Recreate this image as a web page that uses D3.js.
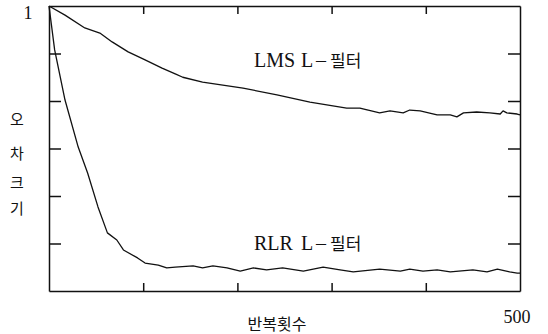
<!DOCTYPE html>
<html>
<head>
<meta charset="utf-8">
<script src="https://cdn.jsdelivr.net/npm/d3@7"></script>
<style>
  body { margin: 0; background: #fff; }
  svg { display: block; }
  text { fill: #111; }
  .lat { font-family: "Liberation Serif", "DejaVu Serif", serif; }
  .kor { font-family: "Noto Sans CJK KR", sans-serif; }
</style>
</head>
<body>
<svg id="chart" width="548" height="334"></svg>
<script>
// iterations / error values
const lmsIter = [0, 17, 38, 54, 67, 84, 102, 120, 134, 142, 163, 206, 242, 277, 316, 330, 351, 362, 376, 383, 394, 412, 426, 433, 440, 454, 468, 479, 482, 486, 497, 500];
const lmsErr  = [1.0, 0.968, 0.923, 0.905, 0.874, 0.839, 0.811, 0.782, 0.762, 0.750, 0.733, 0.712, 0.688, 0.663, 0.642, 0.642, 0.625, 0.632, 0.625, 0.635, 0.632, 0.618, 0.618, 0.611, 0.625, 0.628, 0.625, 0.621, 0.632, 0.625, 0.621, 0.618];

const rlrIter = [0, 6, 17, 31, 41, 52, 62, 72, 79, 94, 102, 116, 125, 134, 153, 163, 174, 189, 203, 217, 231, 248, 270, 291, 309, 323, 351, 373, 383, 397, 412, 426, 450, 465, 476, 489, 497, 500];
const rlrErr  = [1.0, 0.846, 0.670, 0.505, 0.414, 0.295, 0.204, 0.179, 0.144, 0.116, 0.098, 0.091, 0.081, 0.084, 0.088, 0.081, 0.088, 0.081, 0.070, 0.081, 0.074, 0.081, 0.070, 0.084, 0.074, 0.067, 0.077, 0.070, 0.077, 0.070, 0.074, 0.067, 0.074, 0.067, 0.077, 0.067, 0.063, 0.063];

const xTicks = [100, 200, 300, 400];
const yTicks = [1/6, 2/6, 3/6, 4/6, 5/6];
const yLabelChars = ["오", "차", "크", "기"];

const svg = d3.select("#chart");
const L = 49, R = 520, T = 6, B = 291;

const x = d3.scaleLinear().domain([0, 500]).range([L, R]);
const y = d3.scaleLinear().domain([0, 1]).range([B, T]);

/* AXES (ticks inward on all four sides) */
const fmt = () => "";
svg.append("g").attr("transform", `translate(0,${B})`)
  .call(d3.axisTop(x).tickValues(xTicks).tickSize(8).tickSizeOuter(0).tickFormat(fmt));
svg.append("g").attr("transform", `translate(0,${T})`)
  .call(d3.axisBottom(x).tickValues(xTicks).tickSize(8).tickSizeOuter(0).tickFormat(fmt));
svg.append("g").attr("transform", `translate(${L},0)`)
  .call(d3.axisRight(y).tickValues(yTicks).tickSize(12).tickSizeOuter(0).tickFormat(fmt));
svg.append("g").attr("transform", `translate(${R},0)`)
  .call(d3.axisLeft(y).tickValues(yTicks).tickSize(12).tickSizeOuter(0).tickFormat(fmt));
svg.selectAll(".domain, .tick line").attr("stroke", "#111").attr("stroke-width", 1.5);

/* CURVES */
const line = d3.line().x(d => x(d[0])).y(d => y(d[1]));
[[lmsIter, lmsErr], [rlrIter, rlrErr]].forEach(([it, er]) => {
  svg.append("path")
    .datum(d3.zip(it, er))
    .attr("d", line)
    .attr("fill", "none")
    .attr("stroke", "#111")
    .attr("stroke-width", 1.3)
    .attr("stroke-linejoin", "round");
});

/* TEXT */
svg.append("text").attr("class", "lat").attr("x", 28).attr("y", y(1) + 13)
  .attr("text-anchor", "middle").attr("font-size", 18).text("1");
svg.append("text").attr("class", "lat").attr("x", x(500) - 3).attr("y", 323)
  .attr("text-anchor", "middle").attr("font-size", 18).text("500");

function seriesLabel(py, name) {
  const t = svg.append("text").attr("y", py).attr("font-size", 20);
  t.append("tspan").attr("class", "lat").attr("x", 254).text(name);
  t.append("tspan").attr("class", "lat").attr("x", 301).text("L");
  t.append("tspan").attr("class", "lat").attr("x", 316).text("–");
  t.append("tspan").attr("class", "kor").attr("x", 330).attr("font-size", 17).text("필터");
}
seriesLabel(67, "LMS");
seriesLabel(250, "RLR");

svg.append("text").attr("class", "kor").attr("x", 277).attr("y", 330)
  .attr("text-anchor", "middle").attr("font-size", 16).text("반복횟수");

[120, 154, 183, 209].forEach((cy, i) => {
  svg.append("text").attr("class", "kor").attr("x", 17).attr("y", cy + 5)
    .attr("text-anchor", "middle").attr("font-size", 15).text(yLabelChars[i]);
});
</script>
</body>
</html>
